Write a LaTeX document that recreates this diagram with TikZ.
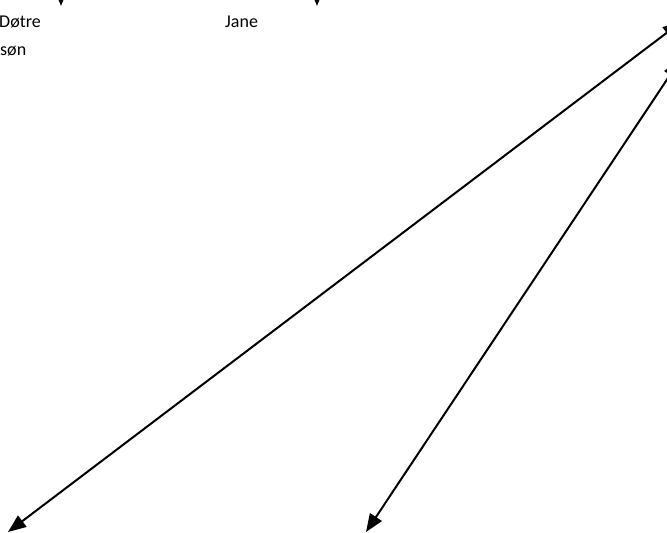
\documentclass[tikz,border=0pt]{standalone}
\usepackage{fontspec}
\setmainfont{Carlito}
\usetikzlibrary{arrows.meta, positioning, calc}

\begin{document}
\begin{tikzpicture}[x=1pt, y=1pt,
    every node/.style={inner sep=0pt, font=\fontsize{18}{21}\selectfont},
    link/.style={line width=2pt, {Triangle[length=18pt, width=14pt]}-{Triangle[length=18pt, width=14pt]}},
    down/.style={line width=2pt, -{Triangle[length=18pt, width=14pt]}}]
    \useasboundingbox (0,0) rectangle (667,533);
    % labels
    \node[anchor=base west] (dotre) at (-1,505) {Døtre};
    \node[anchor=base west] (son) at (0,477) {søn};
    \node[anchor=base west] (jane) at (225,505) {Jane};
    % arrows coming in from above
    \coordinate (inA) at (61,580);
    \coordinate (tipA) at (61,527);
    \coordinate (inB) at (317,580);
    \coordinate (tipB) at (317,527);
    \draw[down] (inA) -- (tipA);
    \draw[down] (inB) -- (tipB);
    % long connectors
    \coordinate (endA) at (681,511);
    \coordinate (endB) at (680,473);
    \coordinate (footA) at (8,1);
    \coordinate (footB) at (366,1);
    \draw[link] (endA) -- (footA);
    \draw[link] (endB) -- (footB);
\end{tikzpicture}
\end{document}
